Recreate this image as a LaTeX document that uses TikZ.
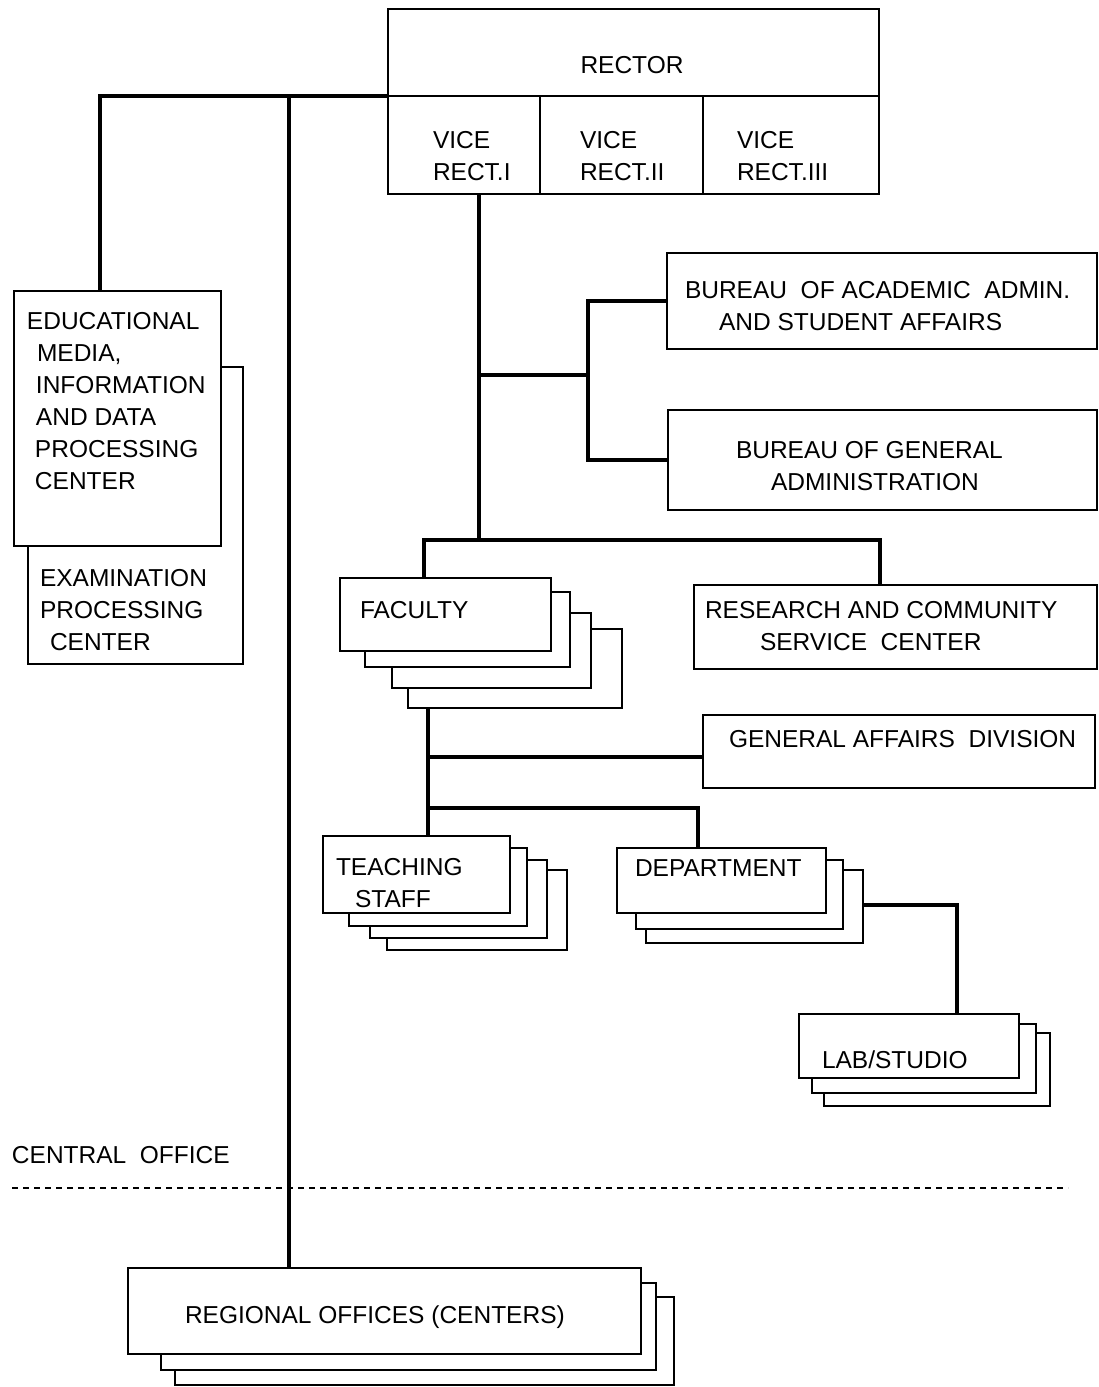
\documentclass[tikz,border=0pt]{standalone}
\usepackage{fontspec}
\setmainfont{Liberation Sans}
\begin{document}
\begin{tikzpicture}[x=1pt,y=-1pt,
  box/.style={draw, line width=2.8pt, fill=white, inner sep=0pt, outer sep=0pt, anchor=north west, rectangle},
  conn/.style={line width=4.2pt},
  lbl/.style={inner sep=0pt, outer sep=0pt, anchor=base west, align=left, font=\fontsize{24.5}{32}\selectfont}]
\newcommand\bx[5]{\node[box, minimum width={#4-#2}, minimum height={#5-#3}] (#1) at (#2,#3) {};}
\useasboundingbox[fill=white] (0,0) rectangle (1099,1387);
% rector block
\bx{rector}{388}{9}{879}{96}
\bx{vr1}{388}{96}{540}{194}
\bx{vr2}{540}{96}{703}{194}
\bx{vr3}{703}{96}{879}{194}
% left boxes
\bx{exam}{28}{367}{243}{664}
\bx{edu}{14}{291}{221}{546}
% bureaus
\bx{bua}{667}{253}{1097}{349}
\bx{bug}{668}{410}{1097}{510}
% faculty stack
\bx{fac4}{408}{629}{622}{708}
\bx{fac3}{392}{613}{591}{688}
\bx{fac2}{365}{592}{570}{667}
\bx{fac}{340}{578}{551}{651}
% research
\bx{rsc}{694}{585}{1097}{669}
% general affairs
\bx{gad}{703}{715}{1095}{788}
% teaching staff
\bx{ts4}{387}{870}{567}{950}
\bx{ts3}{370}{860}{547}{938}
\bx{ts2}{349}{848}{527}{926}
\bx{ts}{323}{836}{510}{913}
% department
\bx{dep3}{646}{870}{863}{943}
\bx{dep2}{636}{860}{843}{929}
\bx{dep}{617}{848}{826}{913}
% lab
\bx{lab3}{824}{1033}{1050}{1106}
\bx{lab2}{812}{1024}{1036}{1093}
\bx{lab}{799}{1014}{1019}{1078}
% regional
\bx{reg3}{175}{1297}{674}{1385}
\bx{reg2}{161}{1283}{656}{1370}
\bx{reg}{128}{1268}{641}{1354}
% junction coordinates
\coordinate (a1) at (100,291);
\coordinate (a2) at (289,96);
\coordinate (a3) at (289,1268);
\coordinate (b0) at (479,194);
\coordinate (b1) at (479,540);
\coordinate (b2) at (479,375);
\coordinate (b3) at (588,375);
\coordinate (c1) at (424,578);
\coordinate (c2) at (880,540);
\coordinate (c3) at (880,585);
\coordinate (d1) at (428,708);
\coordinate (d2) at (428,836);
\coordinate (d3) at (428,757);
\coordinate (d4) at (703,757);
\coordinate (d5) at (428,808);
\coordinate (d6) at (698,848);
\coordinate (e1) at (863,905);
\coordinate (e2) at (957,1014);
\coordinate (dl) at (12,1188);
\coordinate (dr) at (1068,1188);
% connectors
\draw[conn] (rector.south west) -| (a1);
\draw[conn] (a2) -- (a3);
\draw[conn] (b0) -- (b1);
\draw[conn] (b2) -- (b3);
\draw[conn] (bua.west) -| (b3) |- (bug.west);
\draw[conn] (c1) |- (c2) -- (c3);
\draw[conn] (d1) -- (d2);
\draw[conn] (d3) -- (d4);
\draw[conn] (d5) -| (d6);
\draw[conn] (e1) -| (e2);
\draw[line width=1.6pt, dash pattern=on 6pt off 5pt] (dl) -- (dr);
% texts (anchor = baseline of last line)
\node[lbl, anchor=base] (t1) at (632,73) {RECTOR};
\node[lbl] (t2) at (433,180) {VICE\\RECT.I};
\node[lbl] (t3) at (580,180) {VICE\\RECT.II};
\node[lbl] (t4) at (737,180) {VICE\\RECT.III};
\node[lbl] (t5) at (685,330) {BUREAU\ \ OF ACADEMIC\ \ ADMIN.\\\hspace*{34pt}AND STUDENT AFFAIRS};
\node[lbl] (t6) at (736,490) {BUREAU OF GENERAL\\\hspace*{35pt}ADMINISTRATION};
\node[lbl] (t7) at (27,489) {EDUCATIONAL\\\hspace*{10pt}MEDIA,\\\hspace*{9pt}INFORMATION\\\hspace*{9pt}AND DATA\\\hspace*{8pt}PROCESSING\\\hspace*{8pt}CENTER};
\node[lbl] (t8) at (40,650) {EXAMINATION\\PROCESSING\\\hspace*{10pt}CENTER};
\node[lbl] (t9) at (360,618) {FACULTY};
\node[lbl] (t10) at (705,650) {RESEARCH AND COMMUNITY\\\hspace*{55pt}SERVICE\ \ CENTER};
\node[lbl] (t11) at (729,747) {GENERAL AFFAIRS\ \ DIVISION};
\node[lbl] (t12) at (336,907) {TEACHING\\\hspace*{19pt}STAFF};
\node[lbl] (t13) at (635,876) {DEPARTMENT};
\node[lbl] (t14) at (822,1068) {LAB/STUDIO};
\node[lbl] (t15) at (12,1163) {CENTRAL\ \ OFFICE};
\node[lbl] (t16) at (185,1323) {REGIONAL OFFICES (CENTERS)};
\end{tikzpicture}
\end{document}
